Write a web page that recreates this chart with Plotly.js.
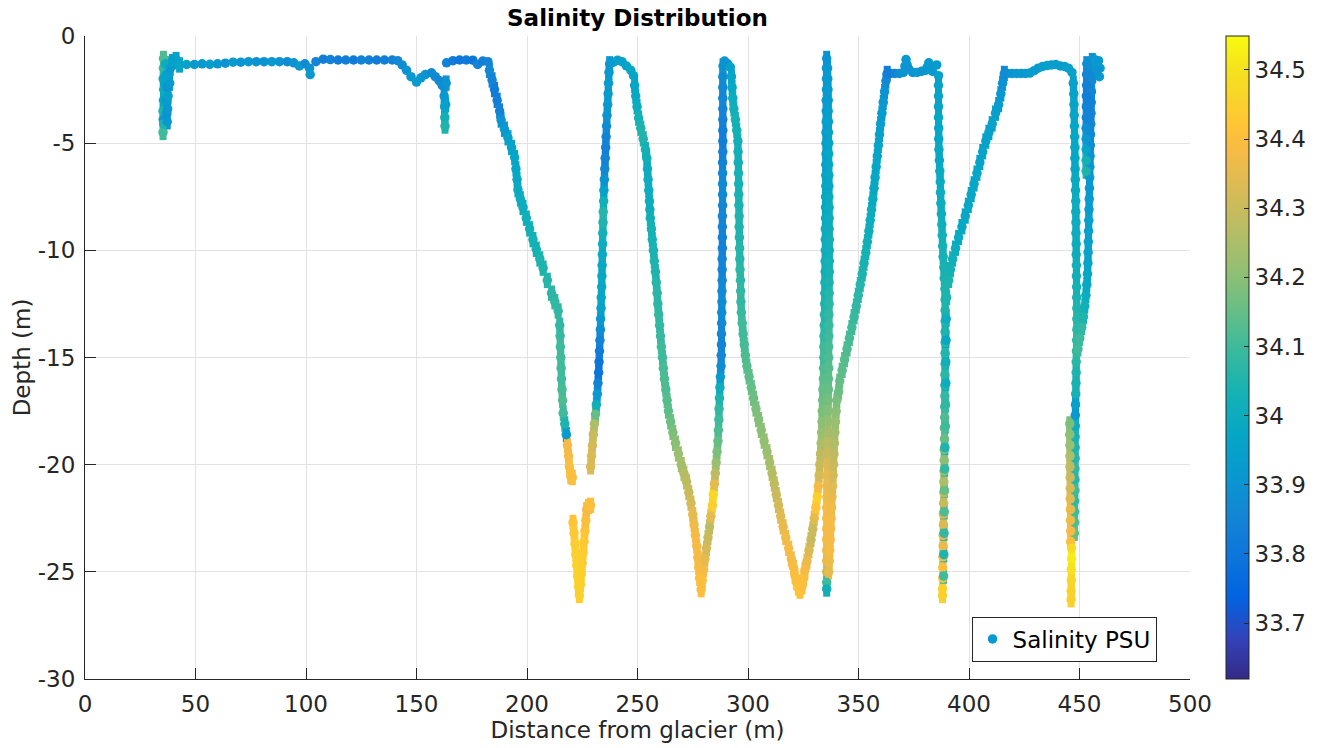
<!DOCTYPE html>
<html>
<head>
<meta charset="utf-8">
<script src="https://cdn.plot.ly/plotly-3.0.1.min.js"></script>
<style>html,body{margin:0;padding:0;background:#fff}#chart{width:1327px;height:748px}</style>
</head>
<body>
<div id="chart"></div>
<script>
// Survey track, one sub-list per leg: distance from glacier (m)
const distance = [
 [35.4,35.3,35.6,35.3,35.5,35.6,35.4,35.5,35.5,36.4,36.8,37.1,36.9,37.0,37.2,37.4,37.6,38.3,38.6,39.6,41.2,42.8],
 [46,49.5,53,56.5,60,63.5,67,70.5,74,77.5,81,84.5,88,91.5,94.5,97,99.5,101.6,101.9,104.5,107.8,111,114.5,118,121.5,125,128.5,132,135.5,139,141.5,143.5,145.5,147.5,150,152,154,156.8,158.5,160.2,161.6],
 [162.5,162.7,162.8,162.9,163.2,163.4],
 [163.6,166.5,169.5,172.5,175.5,177.7,180,182.3],
 [183.0,184.2,185.3,186.5,187.6,188.3,189.8,191.4,193.0,194.4,195.0,195.5,195.9,197.0,198.2,199.7,201.2,202.7,204.2,205.8,207.3,209.2,211.1,212.6,214.1,214.8,215.0,215.1,215.3,215.45,215.6,215.85,216.1,216.4,217.1,217.8,218.3,218.8,219.2,219.8,220.5],
 [220.8,221.3,221.7,222.1,222.5,222.9,223.3,223.7,224.2,224.6,225.0,225.4,225.8,226.2,226.6,227.0,227.8,228.8],
 [228.8,229.2,229.6,230.0,230.5,231.0,231.4,231.8,232.1,232.4,232.6,232.8,233.0,233.2,233.3,233.5,233.6,233.8,233.9,234.0,234.1,234.2,234.3,234.4,234.5,234.7,234.8,235.0,235.2,235.4,235.6,235.8,236.0,236.2,236.5,236.7,236.9,237.1,237.4],
 [239.1,241,243,245,247,248.2],
 [248.7,249.2,249.8,250.5,251.5,252.6,253.6,254.2,254.5,254.8,255.1,255.4,255.6,255.8,256.3,256.7,257.2,257.6,258.1,258.5,258.9,259.2,259.6,260.0,260.4,260.8,261.3,261.7,262.2,262.8,263.4,264.0,265.0,266.0,267.2,268.5,269.8,271.0,272.2,273.2,274.2,275.0,275.6,276.2,276.8,277.3,277.7,278.1,278.8],
 [279.3,279.9,280.5,281.2,281.9,282.6,283.2,283.9,284.3,284.8,285.2,285.6,286.0,286.4,286.6,286.8,286.9,287.1,287.3,287.5,287.8,287.9,288.0,288.0,288.1,288.1,288.2,288.2,288.3,288.3,288.3,288.4,288.4,288.4,288.4,288.5,288.5,288.5,288.5,288.5,288.6,288.6,288.6,288.6,288.6,288.6,288.6,288.6,288.7],
 [289.4,290.8,292.0],
 [292.5,292.8,293.1,293.6,294.3,294.9,295.4,295.5,295.6,295.7,295.8,295.8,295.9,296.0,296.0,296.1,296.2,296.3,296.4,296.6,296.7,296.8,297.0,297.4,297.8,298.3,298.8,299.5,300.5,301.5,302.5,303.6,304.8,306.0,307.3,308.6,309.8,310.9,311.9,312.8,313.8,314.8,315.9,317.1,318.4,319.6,320.6,321.3,322.0,322.8,323.5],
 [324.4,325.2,325.8,326.7,327.6,328.5,329.3,330.0,330.7,331.3,331.8,332.2,332.5,332.8,333.1,333.3,333.5,333.6,333.8,333.9,334.1,334.2,334.3,334.3,334.4,334.5,334.6,334.7,334.8,334.8,334.9,334.9,335.0,335.0,335.0,335.1,335.1,335.1,335.2,335.2,335.2,335.3,335.3,335.3,335.4,335.4,335.4,335.5,335.5,335.5,335.6],
 [336.0,336.1,336.2,336.3,336.3,336.4,336.4,336.5,336.5,336.5,336.6,336.6,336.6,336.7,336.7,336.7,336.8,336.8,336.8,336.8,336.7,336.7,336.7,336.6,336.6,336.6,336.5,336.5,336.5,336.4,336.4,336.3,336.2,336.2,336.1,336.0,335.9,335.9,335.8,335.7,335.7,335.6,335.6,335.6,335.6,335.6,335.6,335.6,335.6,335.6],
 [336.5,336.8,337.0,337.2,337.4,337.6,337.8,338.0,338.3,338.5,338.7,338.9,339.1,339.3,339.6,339.9,340.2,341.0,341.5,342.6,343.7,344.8,345.9,347.0,348.0,349.0,349.9,350.8,351.7,352.5,353.3,354.0,354.7,355.3,355.9,356.5,357.0,357.5,358.0,358.5,359.0,359.5,360.0,360.6,361.2,361.8,362.4,363.0],
 [364.5,366.5,368.5,370.3,371.0,371.5,372.0,372.8,374.5,376.5,378.5,380.3,381.1,381.8,382.6,383.5,385.4,386.2],
 [386.2,386.2,386.2,386.2,386.3,386.3,386.4,386.6,386.8,387.0,387.1,387.3,387.5,387.7,387.9,388.1,388.3,388.6,388.8,389.1,389.2,389.2,389.2,389.2,389.2,389.2,389.2,389.1,389.1,389.1,389.0,389.0,388.9,388.9,388.8,388.8,388.7,388.6,388.6,388.5,388.4,388.4,388.3,388.3,388.2,388.1,388.1,388.0,388.0],
 [388.5,388.6,388.7,388.8,388.9,389.0,389.1,389.3,389.4,389.5,389.5,389.6,389.7,389.9],
 [390.8,391.6,392.6,393.9,395.3,396.8,398.3,399.7,401.0,402.3,403.6,404.9,406.2,407.6,409.0,410.5,412.0,413.4,414.4,415.2,416.0],
 [417.5,419.5,421.5,423.5,425.5,427.5,429.5,431.3,433.3,435.3,437.3,439.3,441.3,443.2,445.0,446.6],
 [447.2,447.4,447.5,447.6,447.7,447.8,447.9,447.9,448.0,448.1,448.2,448.3,448.3,448.4,448.4,448.5,448.5,448.6,448.6,448.7,448.7,448.8,448.8,448.8,448.7,448.6,448.5,448.5,448.4,448.3,448.2,448.1,448.1,448.0,448.0,448.0,447.9,447.9,447.9,447.8,447.8,447.8,447.7],
 [445.6,445.6,445.7,445.7,445.7,445.8,445.8,445.8,445.9,445.9,446.0,446.0],
 [446.4,446.4,446.3,446.3,446.2,446.2],
 [449.3,450.1,451.0,451.8,452.4,452.9,453.3,453.6,453.8,453.9,454.0,454.1,454.2,454.3,454.4,454.5,454.6,454.7,454.8,454.9,455.0,455.1,455.2,455.3,455.4,455.5,455.6,455.8],
 [456.8,457.8,458.6,459.3,459.0,458.0],
 [453.3,453.2,453.2,453.1,453.1,453.1,453.0,453.0,453.0,453.0,453.0]
];
// Depth (m), same legs
const depth = [
 [-3.9,-4.5,-4.1,-3.5,-3.0,-2.5,-2.0,-1.5,-1.05,-1.3,-1.8,-2.4,-3.0,-3.6,-4.0,-3.4,-2.8,-2.2,-1.5,-1.2,-1.1,-1.35],
 [-1.33,-1.33,-1.3,-1.32,-1.3,-1.27,-1.22,-1.22,-1.2,-1.2,-1.2,-1.2,-1.2,-1.2,-1.25,-1.4,-1.3,-1.5,-1.8,-1.2,-1.08,-1.1,-1.12,-1.12,-1.12,-1.12,-1.12,-1.12,-1.12,-1.12,-1.15,-1.35,-1.6,-1.9,-2.15,-1.95,-1.8,-1.72,-1.9,-2.08,-2.3],
 [-2.8,-3.3,-3.8,-4.2,-3.2,-2.2],
 [-1.25,-1.15,-1.12,-1.12,-1.13,-1.33,-1.17,-1.2],
 [-1.6,-2.05,-2.5,-3.0,-3.5,-3.92,-4.35,-4.75,-5.2,-5.67,-6.2,-6.7,-7.17,-7.6,-8.0,-8.5,-9.0,-9.5,-9.95,-10.4,-10.83,-11.4,-12.0,-12.4,-12.83,-13.5,-14.0,-14.5,-15.0,-15.5,-16.0,-16.5,-17.0,-17.6,-18.1,-18.6,-19.1,-19.6,-20.1,-20.55,-20.6],
 [-22.7,-23.2,-23.7,-24.2,-24.7,-25.2,-25.7,-26.1,-25.6,-25.1,-24.6,-24.1,-23.6,-23.1,-22.6,-22.1,-21.95,-21.9],
 [-20.1,-19.6,-19.1,-18.6,-18.1,-17.65,-17.2,-16.7,-16.2,-15.7,-15.2,-14.7,-14.2,-13.7,-13.2,-12.7,-12.2,-11.7,-11.2,-10.7,-10.2,-9.7,-9.2,-8.7,-8.2,-7.7,-7.2,-6.7,-6.2,-5.7,-5.2,-4.7,-4.2,-3.7,-3.2,-2.7,-2.2,-1.7,-1.3],
 [-1.22,-1.13,-1.2,-1.4,-1.6,-1.85],
 [-2.3,-2.8,-3.3,-3.83,-4.3,-4.8,-5.3,-5.7,-6.2,-6.7,-7.2,-7.7,-8.1,-8.5,-9.0,-9.5,-10.0,-10.5,-11.0,-11.5,-12.0,-12.5,-13.0,-13.5,-14.0,-14.5,-15.0,-15.5,-16.0,-16.5,-17.0,-17.5,-18.0,-18.5,-19.0,-19.5,-20.0,-20.4,-20.8,-21.3,-21.8,-22.33,-22.8,-23.3,-23.8,-24.33,-24.8,-25.3,-25.83],
 [-25.4,-24.9,-24.4,-23.9,-23.4,-22.9,-22.4,-21.9,-21.4,-20.9,-20.4,-19.9,-19.4,-18.9,-18.4,-17.9,-17.4,-16.9,-16.4,-15.9,-15.4,-14.9,-14.4,-13.9,-13.4,-12.9,-12.4,-11.9,-11.4,-10.9,-10.4,-9.9,-9.4,-8.9,-8.4,-7.9,-7.4,-6.9,-6.4,-5.9,-5.4,-4.9,-4.4,-3.9,-3.4,-2.9,-2.4,-1.9,-1.4],
 [-1.17,-1.3,-1.45],
 [-1.9,-2.4,-2.9,-3.4,-3.9,-4.4,-4.9,-5.4,-5.9,-6.4,-6.9,-7.4,-7.9,-8.4,-8.9,-9.4,-9.9,-10.4,-10.9,-11.4,-11.9,-12.4,-12.9,-13.4,-13.9,-14.4,-14.9,-15.4,-15.9,-16.4,-16.9,-17.4,-17.9,-18.4,-18.9,-19.4,-19.9,-20.4,-20.9,-21.4,-21.9,-22.4,-22.9,-23.4,-23.9,-24.4,-24.8,-25.2,-25.5,-25.75,-25.9],
 [-25.7,-25.3,-24.9,-24.5,-24.0,-23.5,-23.0,-22.5,-22.0,-21.5,-21.0,-20.5,-20.0,-19.5,-19.0,-18.5,-18.0,-17.5,-17.0,-16.5,-16.0,-15.5,-15.0,-14.5,-14.0,-13.5,-13.0,-12.5,-12.0,-11.5,-11.0,-10.5,-10.0,-9.5,-9.0,-8.5,-8.0,-7.5,-7.0,-6.5,-6.0,-5.5,-5.0,-4.5,-4.0,-3.5,-3.0,-2.5,-2.0,-1.5,-1.05],
 [-1.5,-2.0,-2.5,-3.0,-3.5,-4.0,-4.5,-5.0,-5.5,-6.0,-6.5,-7.0,-7.5,-8.0,-8.5,-9.0,-9.5,-10.0,-10.5,-11.0,-11.5,-12.0,-12.5,-13.0,-13.5,-14.0,-14.5,-15.0,-15.5,-16.0,-16.5,-17.0,-17.5,-18.0,-18.5,-19.0,-19.5,-20.0,-20.5,-21.0,-21.5,-22.0,-22.5,-23.0,-23.5,-24.0,-24.5,-25.0,-25.5,-25.8],
 [-25.0,-24.5,-24.0,-23.5,-23.0,-22.5,-22.0,-21.5,-21.0,-20.5,-20.0,-19.5,-19.0,-18.5,-18.0,-17.5,-17.0,-16.6,-16.1,-15.6,-15.1,-14.6,-14.1,-13.6,-13.1,-12.6,-12.1,-11.6,-11.1,-10.6,-10.1,-9.6,-9.1,-8.6,-8.1,-7.6,-7.1,-6.6,-6.1,-5.6,-5.1,-4.6,-4.1,-3.6,-3.1,-2.6,-2.1,-1.75],
 [-1.75,-1.75,-1.75,-1.7,-1.4,-1.1,-1.35,-1.55,-1.7,-1.7,-1.65,-1.6,-1.45,-1.25,-1.45,-1.65,-1.35,-1.85],
 [-2.3,-2.8,-3.3,-3.8,-4.3,-4.8,-5.3,-5.8,-6.3,-6.8,-7.3,-7.8,-8.3,-8.8,-9.3,-9.8,-10.3,-10.8,-11.3,-11.8,-12.3,-12.8,-13.3,-13.8,-14.3,-14.8,-15.3,-15.8,-16.3,-16.8,-17.3,-17.8,-18.3,-18.8,-19.3,-19.8,-20.3,-20.8,-21.3,-21.8,-22.3,-22.8,-23.3,-23.8,-24.3,-24.8,-25.3,-25.8,-26.1],
 [-25.2,-24.2,-23.2,-22.2,-21.2,-20.2,-19.2,-18.2,-17.2,-16.2,-15.2,-14.2,-13.2,-12.2],
 [-11.4,-10.9,-10.4,-9.9,-9.4,-8.9,-8.4,-7.9,-7.4,-6.9,-6.4,-5.9,-5.4,-4.9,-4.5,-4.1,-3.6,-3.2,-2.7,-2.2,-1.75],
 [-1.75,-1.75,-1.75,-1.75,-1.75,-1.73,-1.62,-1.5,-1.42,-1.38,-1.35,-1.33,-1.4,-1.42,-1.5,-1.7],
 [-2.2,-2.7,-3.2,-3.7,-4.2,-4.7,-5.2,-5.7,-6.2,-6.7,-7.2,-7.7,-8.2,-8.7,-9.2,-9.7,-10.2,-10.7,-11.2,-11.7,-12.2,-12.7,-13.2,-13.7,-14.2,-14.7,-15.2,-15.7,-16.2,-16.7,-17.2,-17.7,-18.2,-18.7,-19.2,-19.7,-20.2,-20.7,-21.2,-21.7,-22.2,-22.7,-23.2],
 [-18.1,-18.6,-19.1,-19.6,-20.1,-20.6,-21.1,-21.6,-22.1,-22.6,-23.1,-23.6],
 [-23.9,-24.4,-24.9,-25.4,-25.9,-26.3],
 [-14.6,-14.1,-13.6,-13.1,-12.6,-12.1,-11.6,-11.1,-10.6,-10.1,-9.6,-9.1,-8.6,-8.1,-7.6,-7.1,-6.6,-6.1,-5.6,-5.1,-4.6,-4.1,-3.6,-3.1,-2.6,-2.1,-1.6,-1.15],
 [-1.1,-1.35,-1.15,-1.5,-1.9,-1.6],
 [-1.3,-1.8,-2.3,-2.8,-3.3,-3.8,-4.3,-4.8,-5.3,-5.8,-6.3]
];
// Salinity (PSU), same legs
const salinity = [
 [33.92,34.1,34.05,34.05,33.98,34.0,33.97,34.08,34.12,34.0,33.95,33.9,33.93,33.9,33.92,33.92,33.95,33.93,33.93,33.95,33.95,33.97],
 [33.95,33.93,33.92,33.94,33.92,33.9,33.93,33.9,33.92,33.9,33.9,33.92,33.9,33.88,33.9,33.92,33.88,33.9,33.92,33.85,33.83,33.84,33.82,33.83,33.82,33.84,33.83,33.82,33.83,33.84,33.86,33.88,33.9,33.92,33.93,33.92,33.9,33.88,33.87,33.86,33.88],
 [33.92,33.98,34.02,34.05,33.95,33.9],
 [33.85,33.82,33.8,33.82,33.8,33.85,33.83,33.85],
 [33.87,33.85,33.82,33.83,33.85,33.9,33.92,33.95,33.96,33.97,33.97,33.98,33.99,34.0,34.0,34.02,34.02,34.03,34.03,34.05,34.05,34.06,34.07,34.08,34.08,34.08,34.09,34.1,34.1,34.1,34.1,34.11,34.12,34.1,34.05,33.93,34.38,34.38,34.4,34.4,34.4],
 [34.42,34.43,34.44,34.45,34.46,34.46,34.46,34.45,34.45,34.45,34.44,34.44,34.43,34.42,34.4,34.38,34.4,34.4],
 [34.33,34.33,34.32,34.3,34.25,34.15,34.02,33.92,33.85,33.8,33.8,33.82,33.85,33.88,33.92,33.95,33.97,33.98,33.98,33.98,33.99,34.0,34.02,34.05,34.06,34.02,33.95,33.9,33.87,33.85,33.84,33.85,33.87,33.9,33.92,33.93,33.93,33.92,33.92],
 [33.93,33.95,33.95,33.96,33.97,33.97],
 [33.97,33.98,34.0,34.03,34.05,34.05,34.03,34.02,34.0,34.0,34.0,34.0,34.01,34.02,34.03,34.03,34.04,34.05,34.05,34.06,34.07,34.07,34.08,34.08,34.09,34.1,34.1,34.11,34.12,34.12,34.13,34.14,34.16,34.18,34.2,34.22,34.24,34.26,34.28,34.3,34.32,34.35,34.37,34.38,34.38,34.38,34.39,34.4,34.4],
 [34.4,34.38,34.35,34.32,34.3,34.28,34.35,34.45,34.47,34.35,34.28,34.22,34.18,34.15,34.12,34.1,34.08,34.05,34.0,33.93,33.88,33.86,33.85,33.86,33.87,33.88,33.88,33.87,33.86,33.85,33.85,33.84,33.84,33.85,33.86,33.86,33.87,33.87,33.86,33.85,33.84,33.83,33.83,33.84,33.85,33.86,33.87,33.88,33.9],
 [33.9,33.9,33.95],
 [33.97,33.98,34.0,34.02,34.03,34.03,34.02,34.02,34.02,34.03,34.03,34.04,34.04,34.05,34.05,34.05,34.06,34.06,34.07,34.07,34.08,34.08,34.09,34.1,34.1,34.11,34.12,34.13,34.14,34.15,34.16,34.18,34.19,34.2,34.21,34.22,34.24,34.26,34.28,34.3,34.32,34.34,34.36,34.37,34.38,34.38,34.39,34.4,34.4,34.42,34.42],
 [34.4,34.4,34.38,34.36,34.33,34.3,34.3,34.35,34.42,34.45,34.38,34.32,34.3,34.28,34.25,34.22,34.2,34.18,34.16,34.15,34.14,34.12,34.1,34.1,34.08,34.07,34.06,34.05,34.04,34.03,34.02,34.02,34.01,34.0,34.0,33.99,33.98,33.98,33.97,33.96,33.95,33.95,33.94,33.93,33.93,33.92,33.92,33.91,33.91,33.9,33.9],
 [33.92,33.92,33.93,33.93,33.94,33.95,33.95,33.96,33.97,33.97,33.98,33.98,33.99,34.0,34.0,34.01,34.02,34.02,34.03,34.04,34.05,34.06,34.07,34.08,34.09,34.1,34.11,34.12,34.13,34.14,34.15,34.17,34.19,34.21,34.24,34.27,34.3,34.33,34.35,34.36,34.37,34.38,34.38,34.38,34.38,34.37,34.36,34.3,34.1,34.02],
 [34.35,34.37,34.38,34.38,34.38,34.38,34.37,34.36,34.34,34.32,34.3,34.28,34.26,34.24,34.22,34.2,34.18,34.16,34.15,34.14,34.13,34.12,34.11,34.1,34.09,34.08,34.07,34.06,34.05,34.04,34.03,34.02,34.01,34.0,34.0,33.99,33.98,33.98,33.97,33.97,33.96,33.95,33.94,33.93,33.92,33.9,33.87,33.83],
 [33.82,33.85,33.88,33.9,33.91,33.92,33.91,33.9,33.9,33.92,33.9,33.92,33.92,33.93,33.92,33.92,33.93,33.95],
 [33.95,33.96,33.96,33.97,33.97,33.97,33.98,33.98,33.99,33.99,34.0,34.0,34.01,34.02,34.02,34.03,34.03,34.04,34.04,34.05,34.05,34.05,34.06,34.05,34.06,34.06,34.05,34.07,34.06,34.08,34.1,34.12,34.13,34.15,34.17,34.2,34.22,34.25,34.28,34.3,34.32,34.33,34.35,34.36,34.38,34.4,34.42,34.45,34.45],
 [34.1,34.05,34.08,34.12,34.15,34.08,34.05,34.1,34.08,34.0,34.02,33.98,34.0,34.05],
 [34.05,34.03,34.02,34.0,33.99,33.98,33.98,33.98,33.97,33.97,33.97,33.96,33.96,33.95,33.95,33.95,33.94,33.93,33.92,33.9,33.87],
 [33.88,33.9,33.92,33.92,33.92,33.93,33.93,33.93,33.94,33.94,33.94,33.94,33.94,33.94,33.95,33.95],
 [33.95,33.95,33.96,33.96,33.97,33.97,33.98,33.98,33.98,33.99,33.99,34.0,34.0,34.0,34.0,34.01,34.01,34.02,34.02,34.03,34.04,34.05,34.06,34.07,34.08,34.08,34.07,34.05,34.04,34.03,33.95,33.92,34.0,34.03,34.05,34.06,34.08,34.06,34.1,34.08,34.1,34.12,34.15],
 [34.18,34.2,34.22,34.25,34.28,34.3,34.32,34.34,34.36,34.37,34.38,34.4],
 [34.48,34.52,34.5,34.47,34.46,34.45],
 [34.1,34.1,34.08,34.05,34.02,34.0,33.98,33.97,33.96,33.95,33.95,33.94,33.94,33.93,33.93,33.92,33.92,33.9,33.9,33.88,33.87,33.86,33.85,33.85,33.86,33.87,33.88,33.9],
 [33.92,33.93,33.92,33.93,33.92,33.9],
 [33.88,33.86,33.84,33.83,33.84,33.85,33.88,33.92,33.97,34.03,34.05]
];
// legs that run near the surface (drawn with round dots only)
const surfaceLegs = [1, 3, 7, 10, 15, 19, 24];

const xTickVals = [0,50,100,150,200,250,300,350,400,450,500];
const yTickVals = [0,-5,-10,-15,-20,-25,-30];
const yTickText = ['0','-5','-10','-15','-20','-25','-30'];
const cbTickVals = [33.7,33.8,33.9,34,34.1,34.2,34.3,34.4,34.5];
const cbTickText = ['33.7','33.8','33.9','34','34.1','34.2','34.3','34.4','34.5'];
const salinityRange = [33.619, 34.549];

// MATLAB parula colour map
const parula = [
 [0,'rgb(53,42,135)'],[0.0635,'rgb(50,67,186)'],[0.127,'rgb(3,99,225)'],[0.1905,'rgb(13,117,220)'],
 [0.254,'rgb(20,133,212)'],[0.3175,'rgb(9,152,209)'],[0.381,'rgb(6,167,198)'],[0.4444,'rgb(21,177,180)'],
 [0.5079,'rgb(56,185,158)'],[0.5714,'rgb(101,190,134)'],[0.6349,'rgb(146,191,115)'],[0.6984,'rgb(183,189,100)'],
 [0.7619,'rgb(217,186,86)'],[0.8254,'rgb(248,187,68)'],[0.8571,'rgb(255,195,55)'],[0.8889,'rgb(252,206,46)'],
 [0.9524,'rgb(245,228,29)'],[1,'rgb(249,251,14)']
];

for (let i = 0; i < distance.length; i++) {
  if (distance[i].length !== depth[i].length || depth[i].length !== salinity[i].length) {
    throw new Error('leg ' + i + ' lengths ' + distance[i].length + '/' + depth[i].length + '/' + salinity[i].length);
  }
}
const xs = distance.flat(), ys = depth.flat(), cs = salinity.flat();
const keep = (arr) => arr.filter((_, i) => surfaceLegs.indexOf(i) < 0).flat();
const dxs = keep(distance), dys = keep(depth), dcs = keep(salinity);

const FONT = 'DejaVu Sans, Verdana, sans-serif';
const INK = '#262626';

// vertical strokes fill the gaps between dots on the steep profiles
const strokeTrace = {
  type: 'scatter', mode: 'markers', name: 'Salinity PSU',
  x: dxs, y: dys, showlegend: false, hoverinfo: 'skip',
  marker: {
    symbol: 'line-ns-open', size: 11, color: dcs, colorscale: parula,
    cmin: salinityRange[0], cmax: salinityRange[1], showscale: false,
    line: {width: 7}
  }
};

const dotTrace = {
  type: 'scatter', mode: 'markers', name: 'Salinity PSU',
  x: xs, y: ys, showlegend: true,
  marker: {
    color: cs, colorscale: parula, cmin: salinityRange[0], cmax: salinityRange[1],
    size: 9.5, line: {width: 0}, showscale: true,
    colorbar: {
      x: 1.0326, xanchor: 'left', y: 0.5, yanchor: 'middle',
      len: 1, lenmode: 'fraction', thickness: 23, thicknessmode: 'pixels',
      xpad: 0, ypad: 0, outlinewidth: 1, outlinecolor: INK,
      ticks: 'inside', ticklen: 5, tickcolor: INK, tickwidth: 1,
      tickvals: cbTickVals, ticktext: cbTickText,
      tickfont: {family: FONT, size: 23, color: INK}
    }
  },
  hoverinfo: 'x+y'
};

const axisCommon = {
  showline: true, linecolor: INK, linewidth: 1, mirror: false,
  ticks: 'inside', ticklen: 11, tickwidth: 1, tickcolor: INK,
  showgrid: true, gridcolor: '#e2e2e2', gridwidth: 1, zeroline: false,
  tickfont: {family: FONT, size: 23, color: INK}, automargin: false, fixedrange: true
};

const layout = {
  width: 1327, height: 748,
  margin: {l: 85, r: 137, t: 36, b: 69, pad: 0},
  paper_bgcolor: '#ffffff', plot_bgcolor: '#ffffff',
  font: {family: FONT, size: 23, color: INK},
  title: {text: '<b>Salinity Distribution</b>', x: 0.5, xref: 'paper', xanchor: 'center',
          y: 1 - 18 / 748, yref: 'container', yanchor: 'middle',
          font: {family: FONT, size: 23, color: '#000000'}},
  xaxis: Object.assign({}, axisCommon, {
    range: [0, 500], tickvals: xTickVals, ticklabelstandoff: 4,
    title: {text: 'Distance from glacier (m)', standoff: 4, font: {family: FONT, size: 23, color: INK}}
  }),
  yaxis: Object.assign({}, axisCommon, {
    range: [-30, 0], tickvals: yTickVals, ticktext: yTickText, ticklabelstandoff: 4,
    title: {text: 'Depth (m)', standoff: 0, font: {family: FONT, size: 23, color: INK}}
  }),
  showlegend: true,
  legend: {x: 0.8023, y: 0.0972, xanchor: 'left', yanchor: 'top', bgcolor: '#ffffff',
           bordercolor: INK, borderwidth: 1, font: {family: FONT, size: 23, color: '#000000'}}
};

Plotly.newPlot('chart', [strokeTrace, dotTrace], layout, {displayModeBar: false, staticPlot: true});
</script>
</body>
</html>
